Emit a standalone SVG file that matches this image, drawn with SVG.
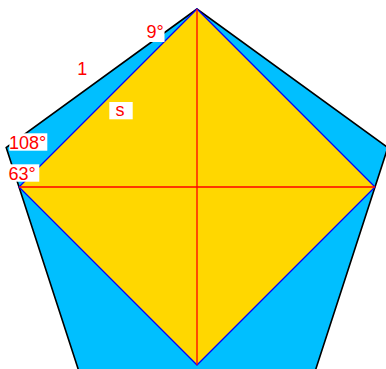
<svg xmlns="http://www.w3.org/2000/svg" width="386" height="369" viewBox="0 0 386 369">
<style>
.lbl{font-family:"Liberation Sans",Arial,sans-serif;font-size:18px;fill:#ff0000}
.bg{fill:#ffffff}
</style>
<rect width="386" height="369" fill="#ffffff"/>
<g id="pentagon">
<polygon points="197,9 6.2,147.6 79.1,371.9 314.9,371.9 387.8,147.6" fill="#00bfff" stroke="#000000" stroke-width="1.6" stroke-linejoin="miter"/>
</g>
<g id="square">
<polygon points="197,9 19,187 197,365 375,187" fill="#ffd700" stroke="#0000ff" stroke-width="1.3"/>
</g>
<g id="connectors">
<line x1="19" y1="187" x2="375" y2="187" stroke="#ff0000" stroke-width="1.3"/>
<line x1="197" y1="9" x2="197" y2="365" stroke="#ff0000" stroke-width="1.3"/>
</g>
<g id="label-9">
<rect class="bg" x="145" y="23.5" width="19.5" height="18.5"/>
<text class="lbl" x="146.4" y="37.8">9°</text>
</g>
<g id="label-1">
<text class="lbl" x="77.2" y="75">1</text>
</g>
<g id="label-s">
<rect class="bg" x="109.3" y="102" width="23.4" height="17.3"/>
<text class="lbl" x="115.4" y="116.2">s</text>
</g>
<g id="label-108">
<rect class="bg" x="9.3" y="133.3" width="38" height="17.4"/>
<text class="lbl" x="9" y="148.6">108°</text>
</g>
<g id="label-63">
<rect class="bg" x="7.7" y="164.3" width="31.6" height="17.4"/>
<text class="lbl" x="8.5" y="179.6">63°</text>
</g>
</svg>
